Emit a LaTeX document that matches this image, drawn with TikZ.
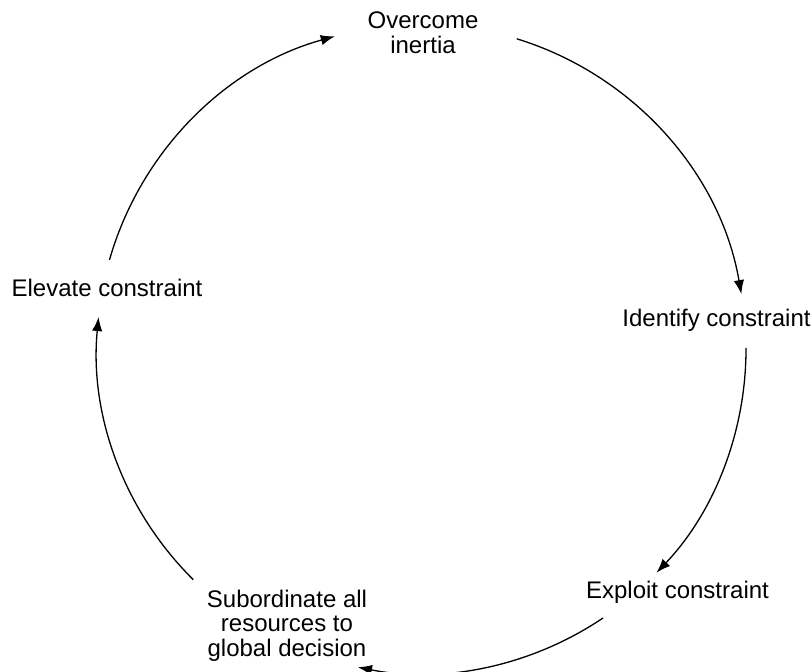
\documentclass[tikz,border=0pt]{standalone}
\usepackage{fontspec}
\setmainfont{Liberation Sans}
\usetikzlibrary{arrows.meta,calc}
\begin{document}
\begin{tikzpicture}[x=0.5pt,y=0.5pt,
  lbl/.style={inner sep=0pt,outer sep=0pt,align=center,font=\fontsize{12}{12.2}\selectfont},
  arr/.style={line width=0.65pt,-{Latex[length=7pt,width=5.2pt]}}]
\useasboundingbox (0,0) rectangle (812,-672);
% labels
\node[lbl,anchor=north] (over) at (423,-12) {Overcome\\inertia};
\node[lbl,anchor=base] (ident) at (716.5,-327) {Identify constraint};
\node[lbl,anchor=base] (expl) at (677.5,-598) {Exploit constraint};
\node[lbl,anchor=north] (sub) at (287,-590) {Subordinate all\\resources to\\global decision};
\node[lbl,anchor=base] (elev) at (107,-297) {Elevate constraint};
% cycle
\coordinate (c) at (421.5,-349);
\def\R{162.25pt}
\coordinate (s1) at ($(c)+(72.93:\R)$);
\coordinate (s2) at ($(c)+(0.18:\R)$);
\coordinate (s3) at ($(c)+(-55.99:\R)$);
\coordinate (s4) at ($(c)+(225.31:\R)$);
\coordinate (s5) at ($(c)+(164.05:\R)$);
\draw[arr] (s1) arc[start angle=72.93, end angle=9.74, radius=\R];
\draw[arr] (s2) arc[start angle=0.18, end angle=-43.57, radius=\R];
\draw[arr] (s3) arc[start angle=-55.99, end angle=-101.29, radius=\R];
\draw[arr] (s4) arc[start angle=225.31, end angle=174.35, radius=\R];
\draw[arr] (s5) arc[start angle=164.05, end angle=105.5, radius=\R];
\end{tikzpicture}
\end{document}
